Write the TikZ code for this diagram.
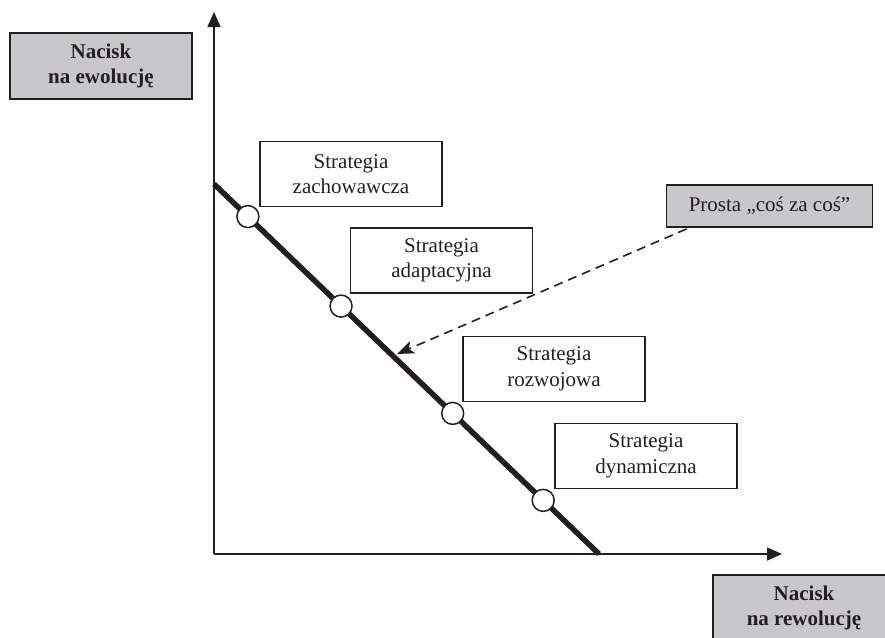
\documentclass[tikz,border=0pt]{standalone}
\usepackage{fontspec}
\setmainfont{Liberation Serif}
\usepackage{xcolor}
\usepackage{tikz}
\usetikzlibrary{arrows.meta,positioning,calc}
\definecolor{boxgray}{RGB}{200,200,203}
\definecolor{inkc}{RGB}{35,31,32}

\begin{document}
\begin{tikzpicture}[x=1pt,y=-1pt,>=Triangle,
    font=\fontsize{21}{25.5}\selectfont,
    stratbox/.style={draw=inkc,line width=1.6pt,fill=white,align=center,
      minimum width=182pt,minimum height=65pt,inner sep=0pt,text=inkc},
    graybox/.style={draw=inkc,line width=1.9pt,fill=boxgray,align=center,
      minimum width=182pt,minimum height=66pt,inner sep=0pt,text=inkc},
    pointc/.style={circle,draw=inkc,fill=white,line width=1.5pt,
      minimum size=22pt,inner sep=0pt}]
  \clip (0,0) rectangle (885,637);
  % axes
  \coordinate (origin) at (214,554);
  \coordinate (ytop) at (214,12);
  \coordinate (xend) at (782,554);
  \draw[->,inkc,line width=1.6pt,arrows={-Triangle[length=15pt,width=13pt]}]
    (origin) -- (ytop);
  \draw[->,inkc,line width=1.6pt,arrows={-Triangle[length=15pt,width=13pt]}]
    (origin) -- (xend);
  % trade-off line
  \coordinate (lineA) at (214,184);
  \coordinate (lineB) at (599,554);
  \draw[inkc,line width=5.5pt] (lineA) -- (lineB);
  % strategy points on the line
  \foreach \t/\nm in {0.088/p1, 0.33/p2, 0.62/p3, 0.855/p4} {
    \node[pointc] (\nm) at ($(lineA)!\t!(lineB)$) {};
  }
  % strategy labels
  \node[stratbox] (zach) at (351,174) {Strategia\\zachowawcza};
  \node[stratbox] (adapt) at (441.5,260.5) {Strategia\\adaptacyjna};
  \node[stratbox] (rozw) at (554,369) {Strategia\\rozwojowa};
  \node[stratbox] (dyn) at (646,456) {Strategia\\dynamiczna};
  % axis labels
  \node[graybox,font=\fontsize{21}{25.5}\selectfont\bfseries] (ewol) at (101,66) {Nacisk\\na ewolucję};
  \node[graybox,font=\fontsize{21}{25.5}\selectfont\bfseries] (rewol) at (804,608) {Nacisk\\na rewolucję};
  % line label with dashed pointer
  \node[graybox,minimum width=206pt,minimum height=42pt] (prosta) at (769.5,206) {Prosta „coś za coś”};
  \coordinate (ptip) at (397,354);
  \draw[inkc,line width=1.6pt,dash pattern=on 9pt off 6pt,
    arrows={-Stealth[length=17pt,width=13pt,inset=4pt]}]
    ($(prosta.south west)+(21,1)$) -- (ptip);
\end{tikzpicture}
\end{document}
